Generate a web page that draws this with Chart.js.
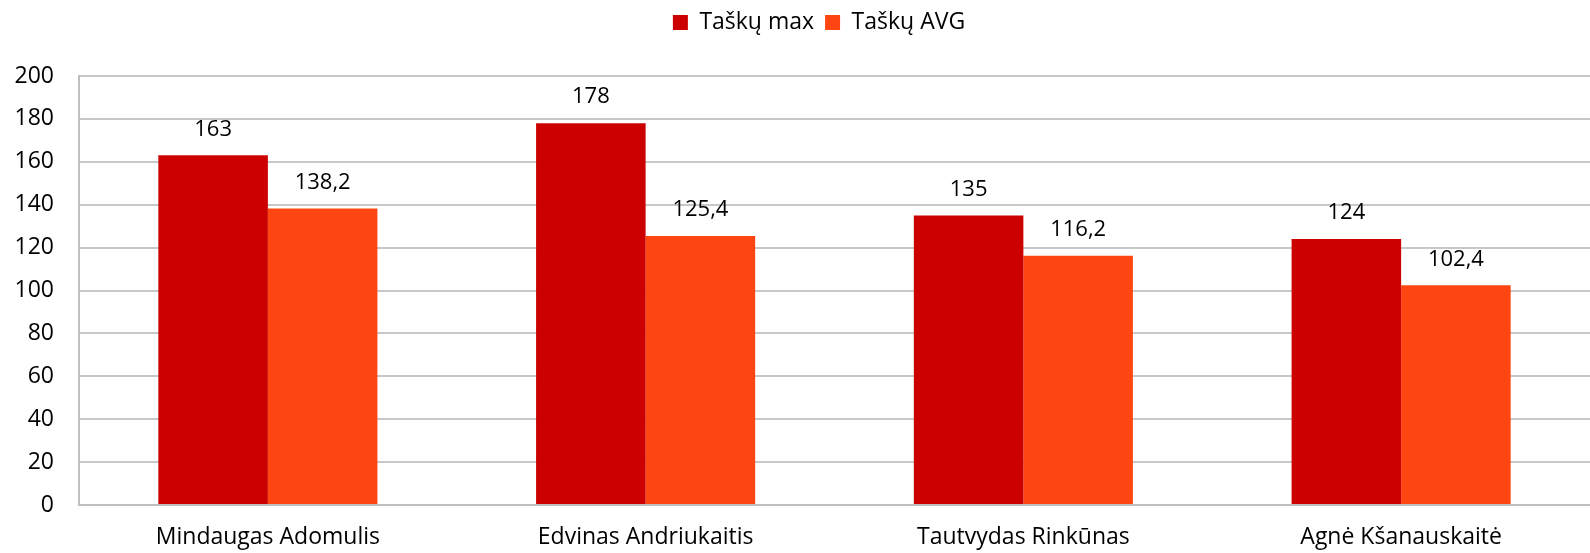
<!DOCTYPE html>
<html><head><meta charset="utf-8">
<script src="https://cdn.jsdelivr.net/npm/chart.js@4/dist/chart.umd.min.js"></script>
<style>html,body{margin:0;padding:0;background:#fff}#wrap{width:1590px;height:553px}</style>
</head><body><div id="wrap"><canvas id="c" width="1590" height="553"></canvas></div>
<script>
const categories = ["Mindaugas Adomulis", "Edvinas Andriukaitis", "Tautvydas Rinkūnas", "Agnė Kšanauskaitė"];
const seriesNames = ["Taškų max", "Taškų AVG"];
const maxValues = [163, 178, 135, 124];
const avgValues = [138.2, 125.4, 116.2, 102.4];
const yTicks = [0, 20, 40, 60, 80, 100, 120, 140, 160, 180, 200];

const FONT = "'Open Sans'";
const FS = 23;
const labelPlugin = {
  id: 'valueLabels',
  afterDatasetsDraw(chart) {
    const ctx = chart.ctx;
    ctx.save();
    ctx.fillStyle = '#000';
    ctx.font = '22px ' + FONT;
    ctx.textAlign = 'center';
    ctx.textBaseline = 'middle';
    chart.data.datasets.forEach((ds, i) => {
      chart.getDatasetMeta(i).data.forEach((el, j) => {
        const v = ds.data[j];
        ctx.fillText(String(v).replace('.', ','), el.x, el.y - 26);
      });
    });
    ctx.restore();
  }
};
const legendHeightPlugin = {
  id: 'legendHeight',
  afterInit(chart) {
    const lg = chart.legend;
    if (lg && !lg._patched) {
      const origFit = lg.fit;
      lg.fit = function() { origFit.call(this); this.height = 76; };
      const origDraw = lg.draw;
      lg.draw = function() {
        const ctx = this.ctx;
        ctx.save(); ctx.translate(24, 0);
        origDraw.call(this);
        ctx.restore();
      };
      lg._patched = true;
    }
  }
};

const chart = new Chart(document.getElementById('c'), {
  type: 'bar',
  data: {
    labels: categories,
    datasets: [
      { label: seriesNames[0], data: maxValues, backgroundColor: '#CC0000', categoryPercentage: 0.58, barPercentage: 1.0 },
      { label: seriesNames[1], data: avgValues, backgroundColor: '#FF4612', categoryPercentage: 0.58, barPercentage: 1.0 }
    ]
  },
  options: {
    responsive: false,
    animation: false,
    devicePixelRatio: 1,
    layout: { padding: 0 },
    plugins: {
      legend: {
        position: 'top',
        labels: { font: { family: FONT, size: FS }, color: '#000', boxWidth: 15, boxHeight: 15, padding: 11 }
      },
      tooltip: { enabled: false }
    },
    scales: {
      x: {
        grid: { display: false, drawTicks: false },
        border: { color: '#BFBFBF', width: 2 },
        ticks: { font: { family: FONT, size: FS }, color: '#000', padding: 19 },
        afterFit(s) { s.height = 48; }
      },
      y: {
        min: 0, max: 200,
        afterBuildTicks(s) { s.ticks = yTicks.map(v => ({ value: v })); },
        grid: { color: '#C8C8C8', lineWidth: 2, drawTicks: false },
        border: { color: '#BFBFBF', width: 2 },
        ticks: { font: { family: FONT, size: FS }, color: '#000', padding: 25 },
        afterFit(s) { s.width = 79; }
      }
    }
  },
  plugins: [labelPlugin, legendHeightPlugin]
});
</script></body></html>
